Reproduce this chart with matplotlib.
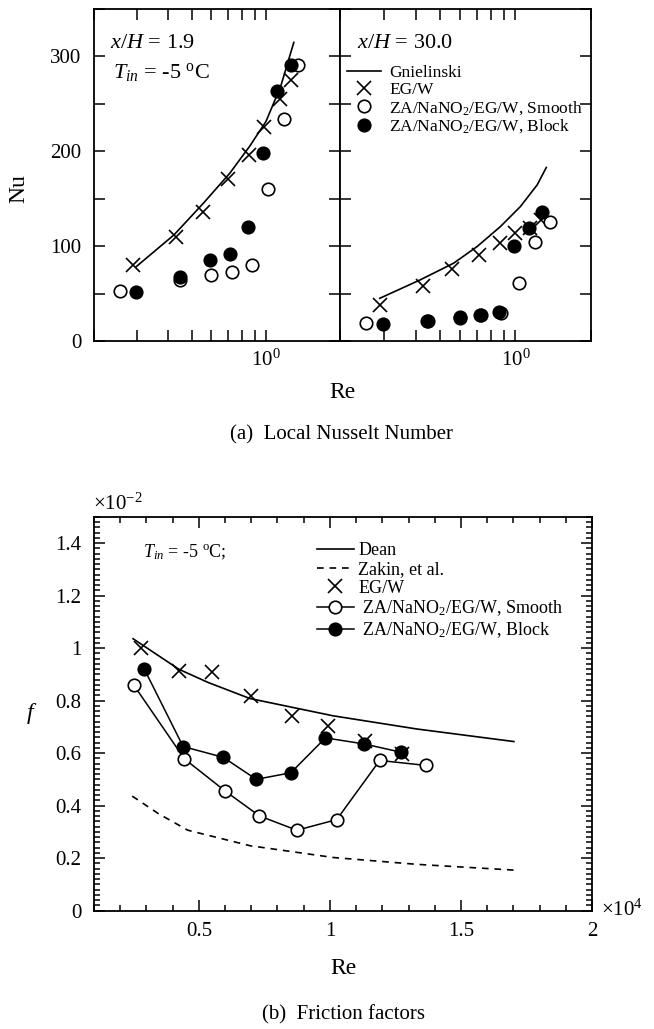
import numpy as np
import matplotlib
matplotlib.use('Agg')
import matplotlib.pyplot as plt
from matplotlib.ticker import MultipleLocator, NullFormatter, FuncFormatter, LogLocator, FixedLocator

plt.rcParams['font.family'] = ['Liberation Serif', 'DejaVu Serif']
plt.rcParams['mathtext.fontset'] = 'custom'
plt.rcParams['mathtext.rm'] = 'Liberation Serif'
plt.rcParams['mathtext.it'] = 'Liberation Serif:italic'
plt.rcParams['mathtext.bf'] = 'Liberation Serif:bold'
plt.rcParams['axes.linewidth'] = 1.3

# ---------------- (a) Local Nusselt number, x/H = 1.9 ----------------
re_gn_L = [0.297, 0.423, 0.557, 0.713, 0.857, 1.0, 1.148, 1.298]
nu_gn_L = [78.4, 111.9, 145.3, 176.9, 205.0, 231.4, 268.4, 314.8]
re_egw_L = [0.288, 0.432, 0.557, 0.703, 0.857, 0.984, 1.141, 1.266]
nu_egw_L = [80.2, 110.1, 135.8, 171.0, 196.3, 225.1, 255.4, 275.4]
re_sm_L = [0.255, 0.446, 0.599, 0.729, 0.876, 1.015, 1.184, 1.35]
nu_sm_L = [52.8, 64.4, 69.6, 73.2, 80.2, 160.4, 233.9, 291.2]
re_bl_L = [0.295, 0.446, 0.590, 0.713, 0.844, 0.969, 1.113, 1.259]
nu_bl_L = [52.1, 67.9, 85.5, 91.5, 119.9, 198.7, 263.1, 290.5]

# ---------------- (a) Local Nusselt number, x/H = 30.0 ----------------
re_gn_R = [0.288, 0.417, 0.567, 0.703, 0.871, 1.047, 1.221, 1.327]
nu_gn_R = [45.0, 64.4, 82.0, 99.5, 120.6, 141.8, 164.6, 182.9]
re_egw_R = [0.288, 0.430, 0.561, 0.713, 0.871, 1.0, 1.14, 1.27]
nu_egw_R = [38.0, 58.0, 75.6, 90.7, 103.0, 113.6, 119.0, 128.0]
re_sm_R = [0.255, 0.446, 0.599, 0.729, 0.876, 1.031, 1.195, 1.372]
nu_sm_R = [19.3, 21.0, 24.0, 27.4, 29.9, 60.9, 104.1, 125.9]
re_bl_R = [0.297, 0.447, 0.603, 0.724, 0.858, 0.99, 1.13, 1.279]
nu_bl_R = [17.6, 21.5, 25.0, 27.4, 31.0, 100.2, 118.9, 136.5]

# ---------------- (b) Friction factors (Re in 1e4, f in 1e-2) ----------------
re_dean = [0.249, 0.424, 0.536, 0.695, 1.013, 1.331, 1.702]
f_dean = [1.036, 0.9195, 0.869, 0.808, 0.742, 0.692, 0.644]
re_zak = [0.246, 0.346, 0.458, 0.695, 1.013, 1.331, 1.702]
f_zak = [0.436, 0.369, 0.306, 0.247, 0.202, 0.176, 0.154]
re_egw_f = [0.281, 0.424, 0.551, 0.699, 0.856, 0.994, 1.133, 1.276]
f_egw = [1.002, 0.913, 0.909, 0.818, 0.742, 0.702, 0.647, 0.597]
re_sm_f = [0.252, 0.445, 0.601, 0.731, 0.874, 1.026, 1.19, 1.367]
f_sm = [0.859, 0.578, 0.455, 0.3605, 0.306, 0.3465, 0.572, 0.553]
re_bl_f = [0.291, 0.44, 0.593, 0.719, 0.851, 0.983, 1.13, 1.273]
f_bl = [0.922, 0.625, 0.584, 0.500, 0.525, 0.658, 0.635, 0.603]

nu_ticks = [0, 100, 200, 300]
f_ticks = [0, 0.2, 0.4, 0.6, 0.8, 1.0, 1.2, 1.4]
re_ticks = [0.5, 1.0, 1.5, 2.0]

W, H = 654, 1029
fig = plt.figure(figsize=(W / 100, H / 100), dpi=100)

axL = fig.add_axes([94 / W, 1 - 341 / H, 246 / W, 332 / H])
axR = fig.add_axes([340 / W, 1 - 341 / H, 251 / W, 332 / H])
axB = fig.add_axes([94 / W, 1 - 910.5 / H, 498 / W, 393.5 / H])

ms_o = 9
ms_x = 10
lw = 1.2


def style_top(ax, show_left):
    ax.set_xscale('log')
    ax.set_xlim(0.2, 2.0)
    ax.set_ylim(0, 350)
    ax.xaxis.set_major_locator(LogLocator(base=10))
    ax.xaxis.set_minor_locator(LogLocator(base=10, subs=np.arange(2, 10)))
    ax.xaxis.set_minor_formatter(NullFormatter())
    ax.yaxis.set_major_locator(FixedLocator(nu_ticks))
    ax.yaxis.set_minor_locator(MultipleLocator(50))
    ax.tick_params(which='both', direction='in', top=True, right=True,
                   length=8, width=1.1, labelsize=15)
    ax.tick_params(axis='y', labelleft=show_left, pad=9)
    ax.tick_params(axis='x', pad=6)


def draw_top(ax, re_gn, nu_gn, re_egw, nu_egw, re_sm, nu_sm, re_bl, nu_bl):
    h1, = ax.plot(re_gn, nu_gn, '-', color='black', lw=lw)
    h2, = ax.plot(re_egw, nu_egw, 'x', color='black', ms=ms_x, mew=1.2)
    h3, = ax.plot(re_sm, nu_sm, 'o', mfc='white', mec='black', ms=ms_o, mew=1.2)
    h4, = ax.plot(re_bl, nu_bl, 'o', mfc='black', mec='black', ms=ms_o, mew=1.2)
    return h1, h2, h3, h4


style_top(axL, True)
style_top(axR, False)
draw_top(axL, re_gn_L, nu_gn_L, re_egw_L, nu_egw_L, re_sm_L, nu_sm_L, re_bl_L, nu_bl_L)
hs = draw_top(axR, re_gn_R, nu_gn_R, re_egw_R, nu_egw_R, re_sm_R, nu_sm_R, re_bl_R, nu_bl_R)

axL.text(0.065, 0.8825, r'$x/H$ = 1.9', fontsize=16, transform=axL.transAxes, va='baseline')
axL.text(0.077, 0.792, r'$T_{in}$ = -5 $^{\mathrm{o}}$C', fontsize=16, transform=axL.transAxes, va='baseline')
axR.text(0.068, 0.8825, r'$x/H$ = 30.0', fontsize=16, transform=axR.transAxes, va='baseline')

axR.legend(hs, ['Gnielinski', 'EG/W', r'ZA/NaNO$_{\mathrm{2}}$/EG/W, Smooth',
                r'ZA/NaNO$_{\mathrm{2}}$/EG/W, Block'],
           loc='upper left', bbox_to_anchor=(0.027, 0.832), frameon=False,
           fontsize=12.5, handlelength=2.0, handletextpad=0.45, labelspacing=0.05,
           borderaxespad=0, borderpad=0, numpoints=1)

fig.text(19 / W, 1 - 189 / H, 'Nu', fontsize=17, rotation=90, ha='center', va='center')
fig.text(342 / W, 1 - 393 / H, 'Re', fontsize=17, ha='center', va='center')
fig.text(342 / W, 1 - 435 / H, '(a)  Local Nusselt Number', fontsize=15, ha='center', va='center')

# ---------------- bottom panel ----------------
axB.set_xlim(0.1, 2.0)
axB.set_ylim(0, 1.5)
axB.xaxis.set_major_locator(FixedLocator(re_ticks))
axB.xaxis.set_minor_locator(MultipleLocator(0.1))
axB.yaxis.set_major_locator(FixedLocator(f_ticks))
axB.yaxis.set_minor_locator(MultipleLocator(0.02))
fmt = FuncFormatter(lambda v, p: '%g' % round(v, 3))
axB.xaxis.set_major_formatter(fmt)
axB.yaxis.set_major_formatter(fmt)
axB.tick_params(which='both', direction='in', top=True, right=True, width=1.1)
axB.tick_params(which='major', length=8, labelsize=15)
axB.tick_params(which='minor', length=4)
axB.tick_params(axis='x', pad=8)
axB.tick_params(axis='y', pad=9)

b1, = axB.plot(re_dean, f_dean, '-', color='black', lw=lw)
b2, = axB.plot(re_zak, f_zak, '--', color='black', lw=lw, dashes=(4, 3.5))
b3, = axB.plot(re_egw_f, f_egw, 'x', color='black', ms=ms_x, mew=1.2)
b4, = axB.plot(re_sm_f, f_sm, '-o', color='black', lw=1.1, mfc='white', mec='black', ms=ms_o, mew=1.2)
b5, = axB.plot(re_bl_f, f_bl, '-o', color='black', lw=1.1, mfc='black', mec='black', ms=ms_o, mew=1.2)

axB.legend([b1, b2, b3, b4, b5],
           ['Dean', 'Zakin, et al.', 'EG/W', r' ZA/NaNO$_{\mathrm{2}}$/EG/W, Smooth',
            r' ZA/NaNO$_{\mathrm{2}}$/EG/W, Block'],
           loc='upper left', bbox_to_anchor=(0.447, 0.936), frameon=False,
           fontsize=13, handlelength=2.05, handletextpad=0.25, labelspacing=0.1,
           borderaxespad=0, borderpad=0, numpoints=1)

axB.text(0.098, 0.898, r'$T_{in}$ = -5 $^{\mathrm{o}}$C;', fontsize=13, transform=axB.transAxes, va='baseline')

fig.text(93 / W, 1 - 510 / H, '\u00d710$^{-2}$', fontsize=15, va='baseline')
fig.text(601 / W, 1 - 916 / H, '\u00d710$^{4}$', fontsize=15, va='baseline')
fig.text(32 / W, 1 - 713 / H, '$f$', fontsize=17, ha='center', va='center')
fig.text(343 / W, 1 - 968 / H, 'Re', fontsize=17, ha='center', va='center')
fig.text(343 / W, 1 - 1015 / H, '(b)  Friction factors', fontsize=15, ha='center', va='center')

fig.savefig('out.png', dpi=100)
